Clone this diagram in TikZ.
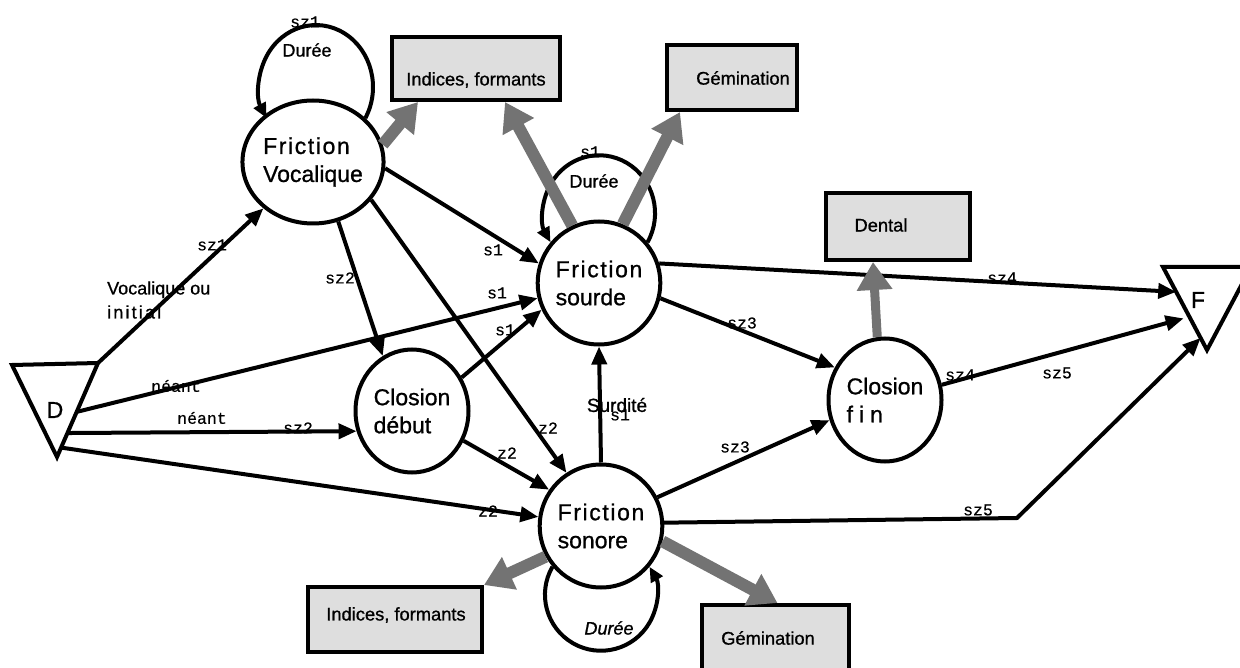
\documentclass[tikz,border=0pt]{standalone}
\usepackage{fontspec}
\setmainfont{Liberation Sans}
\newfontfamily\labelmono{Liberation Mono}
\usetikzlibrary{shapes.geometric,arrows.meta,calc}

\newcommand{\heavy}{\addfontfeature{FakeBold=0.9}}
\newcommand{\statefont}{\fontsize{23}{28}\selectfont\heavy}
\newcommand{\boxfont}{\fontsize{18.3}{22}\selectfont\heavy}
\newcommand{\notefont}{\fontsize{18}{24}\selectfont\heavy}
\newcommand{\lblfont}{\labelmono\fontsize{16.5}{18}\selectfont\addfontfeature{FakeBold=0.5}}
\newcommand{\spaced}[2]{{\addfontfeature{LetterSpace=#1}#2}}

\tikzset{
  state/.style={ellipse, draw, line width=4pt, fill=white, minimum width=113pt,
    minimum height=123pt, inner sep=0pt, align=left, font=\statefont},
  conn/.style={line width=4pt, -{Triangle[length=18pt,width=15pt]}},
  loopline/.style={line width=4pt, -{Triangle[length=15pt,width=13pt]}},
  infobox/.style={draw, line width=4pt, fill=black!13, inner sep=0pt},
  boxtext/.style={font=\boxfont, inner sep=0pt},
  feed/.style={draw=black!55, line width=12pt, -{Triangle[length=28pt,width=34pt]}},
  lbl/.style={font=\lblfont, inner sep=0pt},
  note/.style={font=\notefont, inner sep=0pt},
  border/.style={line width=4pt},
}

\begin{document}
\begin{tikzpicture}[x=1pt,y=-1pt]
\useasboundingbox (0,0) rectangle (1240,668);
\clip (0,0) rectangle (1240,668);

% start and end triangles
\coordinate (dA) at (12,365);
\coordinate (dB) at (98,363);
\coordinate (dC) at (57,457);
\draw[border] (dA) -- (dB) -- (dC) -- cycle;
\node[font=\statefont, inner sep=0pt] (dlab) at (55,410) {D};
\coordinate (d1) at (dB);
\coordinate (d2) at ($(dB)!0.52!(dC)$);
\coordinate (d3) at ($(dB)!0.745!(dC)$);
\coordinate (d4) at ($(dB)!0.90!(dC)$);

\coordinate (fA) at (1163,267);
\coordinate (fB) at (1251,267);
\coordinate (fC) at (1207,350);
\draw[border] (fA) -- (fB) -- (fC) -- cycle;
\node[font=\statefont, inner sep=0pt] (flab) at (1198,300) {F};
\coordinate (f1) at ($(fA)!0.30!(fC)$);
\coordinate (f2) at ($(fA)!0.60!(fC)$);
\coordinate (f3) at ($(fA)!0.855!(fC)$);
\coordinate (bend) at (1017,518);

% states
\node[state] (fv) at (313,162) {\spaced{7}{Friction}\\Vocalique};
\node[state] (fs) at (599,283) {\spaced{7}{Friction}\\sourde};
\node[state] (cd) at (412,411) {Closion\\début};
\node[state] (fso) at (601,526) {\spaced{7}{Friction}\\sonore};
\node[state] (cf) at (885,400) {Closion\\\spaced{26}{fin}};

% information boxes
\node[infobox, minimum width=168pt, minimum height=63pt] (itop) at (476,68.5) {};
\node[boxtext] (itopt) at (476,80) {Indices, formants};
\node[infobox, minimum width=130pt, minimum height=65pt] (gtop) at (732,77.5) {};
\node[boxtext] (gtopt) at (743,78) {Gémination};
\node[infobox, minimum width=144pt, minimum height=67pt] (dental) at (898,226.5) {};
\node[boxtext] (dentalt) at (881,225) {Dental};
\node[infobox, minimum width=174pt, minimum height=65pt] (ibot) at (395,619.5) {};
\node[boxtext] (ibott) at (396,615) {Indices, formants};
\node[infobox, minimum width=147pt, minimum height=75pt] (gbot) at (775.5,642.5) {};
\node[boxtext] (gbott) at (768,638) {Gémination};

% transition labels
\node[lbl] (l1) at (305,22) {sz1};
\node[note] (l2) at (307,50) {Durée};
\node[lbl] (l3) at (590,152) {s1};
\node[note] (l4) at (594,181) {Durée};
\node[note, font=\notefont\itshape] (l5) at (609,628) {Durée};
\node[lbl] (l6) at (212,245) {sz1};
\node[note, anchor=west, align=left] (l7) at (107,300) {Vocalique ou\\\spaced{12}{initial}};
\node[lbl] (l8) at (176,386) {néant};
\node[lbl] (l9) at (202,418) {néant};
\node[lbl] (l10) at (298,428) {sz2};
\node[lbl] (l11) at (488,511) {z2};
\node[lbl] (l12) at (340,278) {sz2};
\node[lbl] (l13) at (493,250) {s1};
\node[lbl] (l14) at (497,293) {s1};
\node[lbl] (l15) at (505,330) {s1};
\node[lbl] (l16) at (548,428) {z2};
\node[lbl] (l17) at (507,453) {z2};
\node[note, font=\fontsize{19}{22}\selectfont\heavy] (l18) at (617,405) {Surdité};
\node[lbl] (l19) at (620,415) {s1};
\node[lbl] (l20) at (742,323) {sz3};
\node[lbl] (l21) at (735,447) {sz3};
\node[lbl] (l22) at (1002,278) {sz4};
\node[lbl] (l23) at (960,375) {sz4};
\node[lbl] (l24) at (1057,373) {sz5};
\node[lbl] (l25) at (978,510) {sz5};

% transitions
\draw[conn] (d1) -- (fv);
\draw[conn] (d2) -- (fs);
\draw[conn] (d3) -- (cd.200);
\draw[conn] (d4) -- (fso);
\draw[conn] (fv.-5) -- (fs.162);
\draw[conn] (fv.-67) -- (cd.118);
\draw[conn] (fv.-33) -- (fso.123);
\draw[conn] (cd.34) -- (fs.205);
\draw[conn] (cd.-30) -- (fso.145);
\draw[conn] (fso.north) -- (fs.south);
\draw[conn] (fs.18) -- (f1);
\draw[conn] (fs.-14) -- (cf.147);
\draw[conn] (fso.27) -- (cf.200);
\draw[conn, shorten >=6pt] (cf.15) -- (f2);
\draw[conn] (fso.3) -- (bend) -- (f3);

% duration loops
\draw[loopline] (fv.40) arc[start angle=30, end angle=-210, x radius=57, y radius=62];
\draw[loopline] (fs.40) arc[start angle=30, end angle=-210, x radius=56, y radius=58];
\draw[loopline] (fso.220) arc[start angle=-150, end angle=-390, x radius=56, y radius=56];

% feature outputs
\draw[feed] (fv.14) -- ([xshift=28pt]itop.south west);
\draw[feed] (fs.115) -- ([xshift=29pt]itop.south);
\draw[feed] (fs.68) -- ([xshift=15pt]gtop.south west);
\draw[feed, line width=9pt] (cf.97) -- ([xshift=-25pt]dental.south);
\draw[feed] (fso.209) -- (ibot.north east);
\draw[feed] (fso.-14) -- ([xshift=2pt]gbot.north);
\end{tikzpicture}
\end{document}
